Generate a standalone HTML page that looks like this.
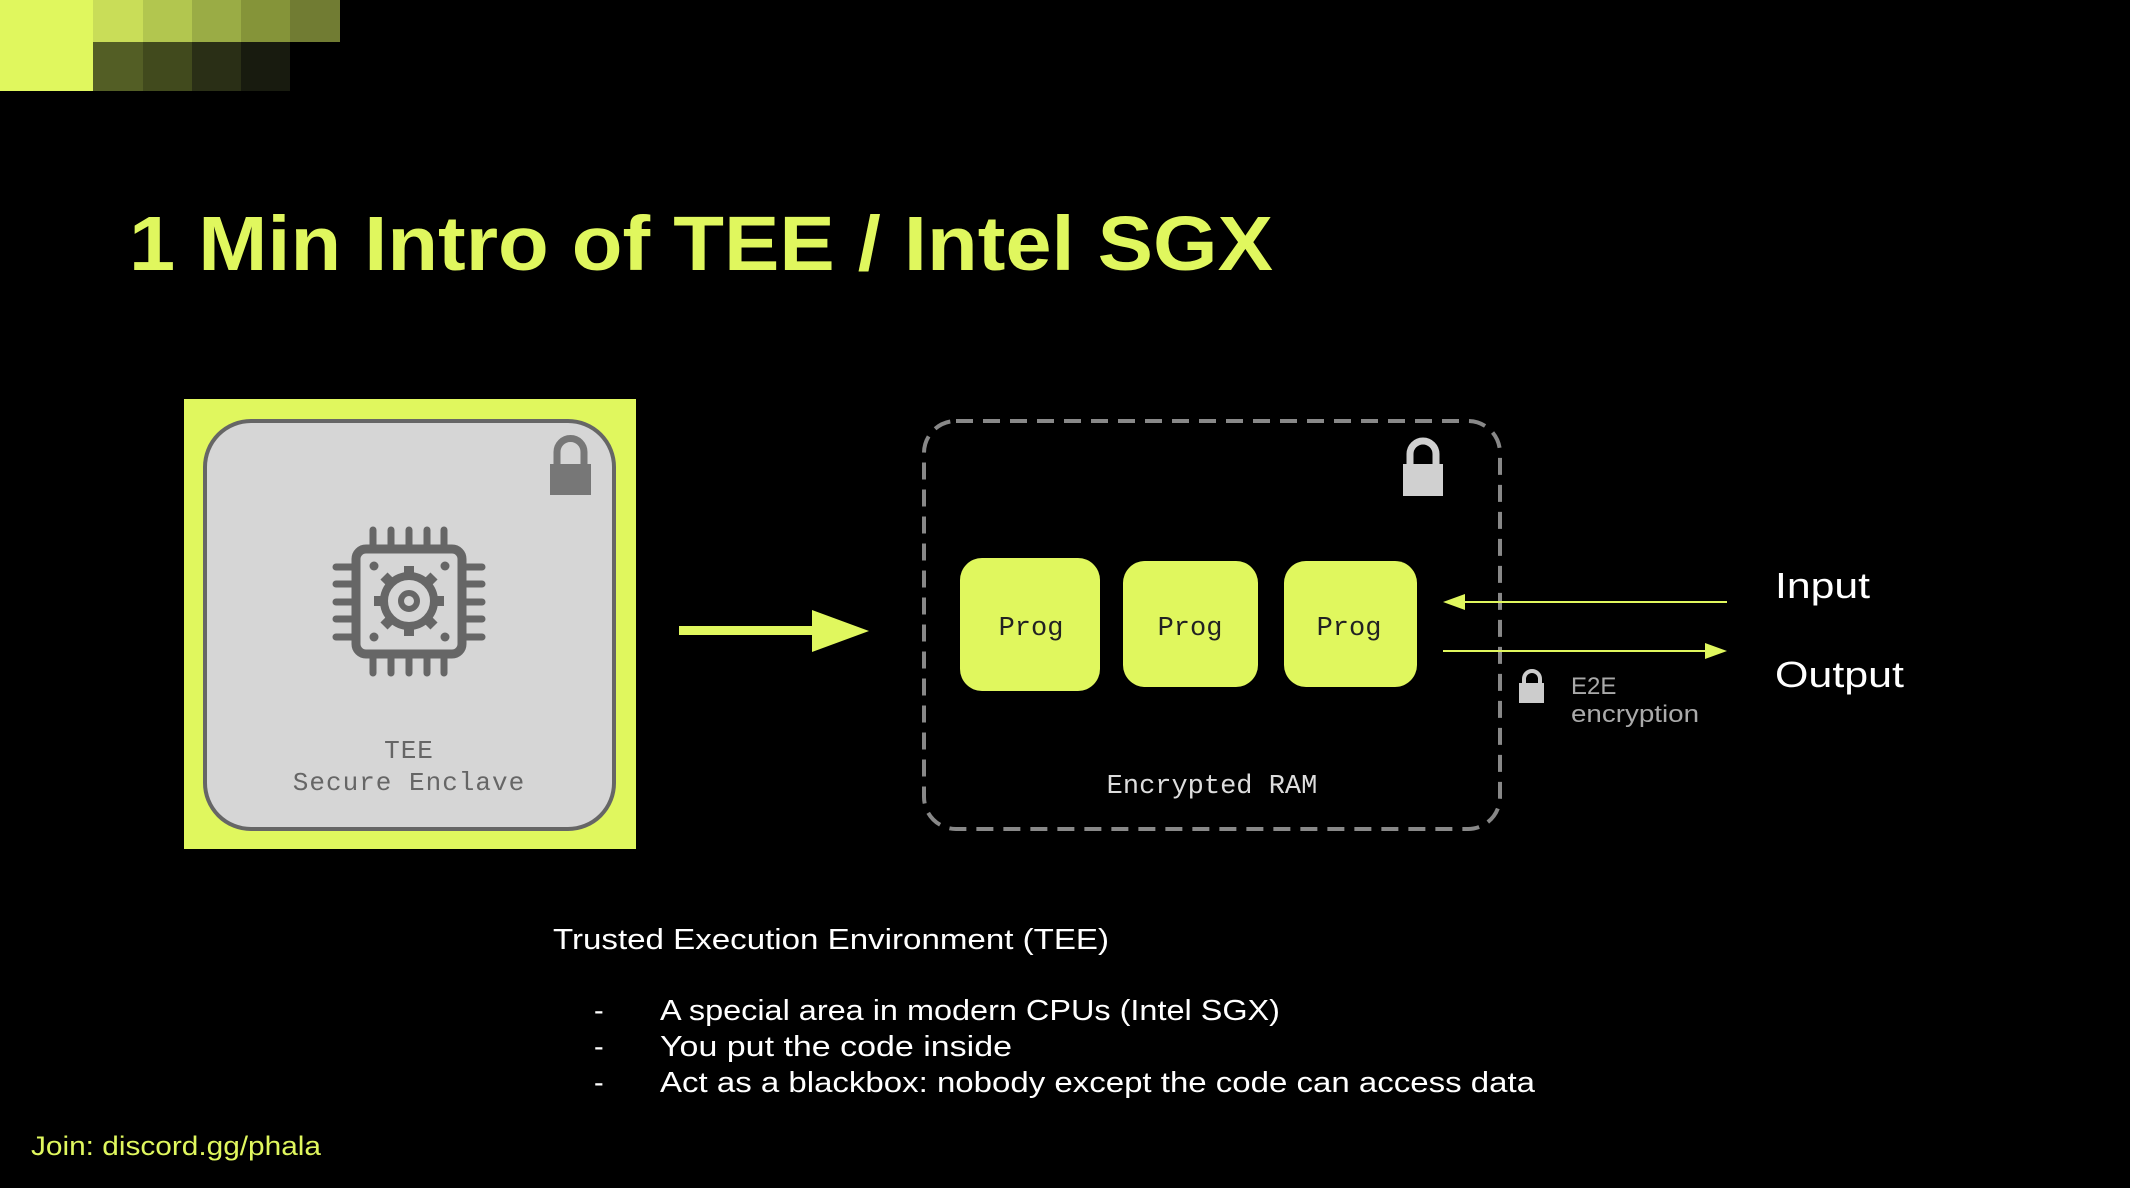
<!DOCTYPE html>
<html><head><meta charset="utf-8"><style>
html,body{margin:0;padding:0;background:#000;}
svg{display:block;}
</style></head><body>
<svg width="2130" height="1188" viewBox="0 0 2130 1188" xmlns="http://www.w3.org/2000/svg">
<rect width="2130" height="1188" fill="#000"/>
<rect x="0" y="0" width="93" height="91" fill="#e0f75e"/>
<rect x="93" y="0" width="50" height="42" fill="#c9dd58"/>
<rect x="143" y="0" width="49" height="42" fill="#b2c64f"/>
<rect x="192" y="0" width="49" height="42" fill="#9aac45"/>
<rect x="241" y="0" width="49" height="42" fill="#859439"/>
<rect x="290" y="0" width="50" height="42" fill="#717c33"/>
<rect x="93" y="42" width="50" height="49" fill="#535e25"/>
<rect x="143" y="42" width="49" height="49" fill="#414a1d"/>
<rect x="192" y="42" width="49" height="49" fill="#2a2f16"/>
<rect x="241" y="42" width="49" height="49" fill="#181b0f"/>

<text x="129" y="270" font-family="Liberation Sans, sans-serif" font-weight="bold" font-size="77" fill="#e0f75e" textLength="1144" lengthAdjust="spacingAndGlyphs">1 Min Intro of TEE / Intel SGX</text>

<rect x="184" y="399" width="452" height="450" fill="#e0f75e"/>
<rect x="205" y="421" width="409" height="408" rx="46" fill="#d6d6d6" stroke="#666" stroke-width="4"/>
<path d="M557 466 V452 a13.5 13.5 0 0 1 27 0 V466" fill="none" stroke="#777" stroke-width="7"/>
<rect x="550" y="464" width="41" height="31" fill="#777"/>
<g stroke="#666" fill="none" stroke-linecap="round">
<rect x="356" y="549" width="106" height="105" rx="10" stroke-width="9"/>
<g stroke-width="7">
<path d="M373 530V545M391 530V545M409 530V545M427 530V545M444 530V545"/>
<path d="M373 658V673M391 658V673M409 658V673M427 658V673M444 658V673"/>
<path d="M336 567H352M336 584H352M336 602H352M336 619H352M336 637H352"/>
<path d="M466 567H482M466 584H482M466 602H482M466 619H482M466 637H482"/>
</g>
<circle cx="409" cy="601" r="25" stroke-width="8"/>
<circle cx="409" cy="601" r="8" stroke-width="6"/>
<g stroke-width="10" stroke-linecap="butt">
<path d="M409 566V576M409 626V636M374 601H384M434 601H444M384 576L391 583M427 619L434 626M434 576L427 583M391 619L384 626"/>
</g>
</g>
<g fill="#666"><circle cx="374" cy="566" r="4.5"/><circle cx="445" cy="566" r="4.5"/><circle cx="374" cy="637" r="4.5"/><circle cx="445" cy="637" r="4.5"/></g>
<text x="409" y="758" text-anchor="middle" font-family="Liberation Mono, monospace" font-size="26" fill="#666" letter-spacing="1">TEE</text>
<text x="409" y="790" text-anchor="middle" font-family="Liberation Mono, monospace" font-size="26" fill="#666" letter-spacing="1">Secure Enclave</text>

<rect x="679" y="626" width="134" height="9" fill="#e0f75e"/>
<polygon points="812,610 869,631 812,652" fill="#e0f75e"/>

<rect x="924" y="421" width="576" height="408" rx="32" fill="none" stroke="#888" stroke-width="4" stroke-dasharray="17 10"/>
<path d="M1410 468 V454 a13 13 0 0 1 26 0 V468" fill="none" stroke="#d0d0d0" stroke-width="7"/>
<rect x="1403" y="464" width="40" height="32" fill="#d0d0d0"/>

<rect x="960" y="558" width="140" height="133" rx="22" fill="#e0f75e"/>
<rect x="1123" y="561" width="135" height="126" rx="22" fill="#e0f75e"/>
<rect x="1284" y="561" width="133" height="126" rx="22" fill="#e0f75e"/>
<g font-family="Liberation Mono, monospace" font-size="27" fill="#222" text-anchor="middle">
<text x="1031" y="635">Prog</text>
<text x="1190" y="635">Prog</text>
<text x="1349" y="635">Prog</text>
</g>
<text x="1212" y="793" text-anchor="middle" font-family="Liberation Mono, monospace" font-size="27" fill="#ddd">Encrypted RAM</text>

<line x1="1727" y1="602" x2="1458" y2="602" stroke="#e0f75e" stroke-width="2"/>
<polygon points="1443,602 1465,594 1465,610" fill="#e0f75e"/>
<line x1="1443" y1="651" x2="1710" y2="651" stroke="#e0f75e" stroke-width="2"/>
<polygon points="1727,651 1705,643 1705,659" fill="#e0f75e"/>
<text x="1775" y="598" font-family="Liberation Sans, sans-serif" font-size="36" fill="#fff" textLength="95" lengthAdjust="spacingAndGlyphs">Input</text>
<text x="1775" y="687" font-family="Liberation Sans, sans-serif" font-size="36" fill="#fff" textLength="129" lengthAdjust="spacingAndGlyphs">Output</text>
<path d="M1524 685 V679 a8 8 0 0 1 16 0 V685" fill="none" stroke="#ccc" stroke-width="4"/>
<rect x="1519" y="683" width="25" height="20" fill="#ccc"/>
<text x="1571" y="694" font-family="Liberation Sans, sans-serif" font-size="24" fill="#aaa">E2E</text>
<text x="1571" y="722" font-family="Liberation Sans, sans-serif" font-size="24" fill="#aaa" textLength="128" lengthAdjust="spacingAndGlyphs">encryption</text>

<g font-family="Liberation Sans, sans-serif" font-size="29" fill="#fff">
<text x="553" y="949" textLength="556" lengthAdjust="spacingAndGlyphs">Trusted Execution Environment (TEE)</text>
<text x="594" y="1020">-</text>
<text x="594" y="1056">-</text>
<text x="594" y="1092">-</text>
<text x="660" y="1020" textLength="620" lengthAdjust="spacingAndGlyphs">A special area in modern CPUs (Intel SGX)</text>
<text x="660" y="1056" textLength="352" lengthAdjust="spacingAndGlyphs">You put the code inside</text>
<text x="660" y="1092" textLength="875" lengthAdjust="spacingAndGlyphs">Act as a blackbox: nobody except the code can access data</text>
</g>
<text x="31" y="1155" font-family="Liberation Sans, sans-serif" font-size="27" fill="#e0f75e" textLength="290" lengthAdjust="spacingAndGlyphs">Join: discord.gg/phala</text>
</svg>
</body></html>
